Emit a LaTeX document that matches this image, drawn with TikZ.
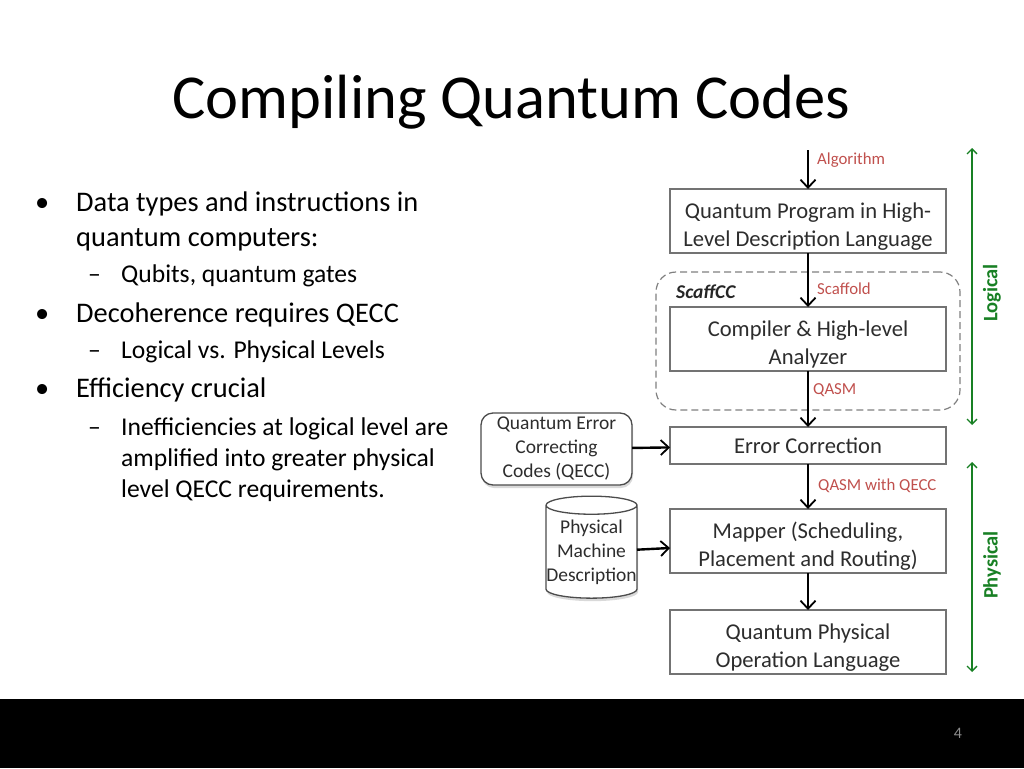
\documentclass[tikz,border=0pt]{standalone}
\usepackage{fontspec}
\setmainfont{Carlito}
\usetikzlibrary{positioning,shapes.geometric,arrows.meta,shadows}
\definecolor{etiqred}{RGB}{192,80,77}
\definecolor{nivgreen}{RGB}{24,128,36}
\definecolor{bloctext}{RGB}{45,45,45}

\begin{document}
\begin{tikzpicture}[x=1pt, y=-1pt,
    bloc/.style={draw=black!55, line width=1.2pt, fill=white,
        minimum width=276pt, minimum height=64pt,
        text=bloctext, font=\fontsize{22.6}{28}\selectfont, align=center,
        inner sep=0pt, outer sep=0pt},
    doble/.style={text height=55pt, text depth=5pt},
    fuente/.style={draw=black!70, line width=1.3pt, fill=white,
        text=bloctext, font=\fontsize{19.5}{24}\selectfont, align=center,
        inner sep=0pt, outer sep=0pt,
        drop shadow={shadow xshift=1pt, shadow yshift=-3pt, opacity=0.3}},
    flecha/.style={-{Straight Barb[length=8pt,width=15pt,line width=1.8pt]}, line width=2.4pt},
    etiq/.style={text=etiqred, font=\fontsize{16.8}{18}\selectfont,
        anchor=west, inner sep=0pt},
    nivel/.style={{Straight Barb[length=5pt,width=10pt]}-{Straight Barb[length=5pt,width=10pt]},
        draw=nivgreen, line width=1.3pt},
    nivtext/.style={text=nivgreen, font=\fontsize{20.5}{22}\selectfont\bfseries,
        rotate=90, inner sep=0pt},
    punto/.style={anchor=base west, inner sep=0pt, font=\fontsize{28.4}{34}\selectfont},
    subpunto/.style={anchor=base west, inner sep=0pt, font=\fontsize{25.6}{31}\selectfont},
    ]
    \useasboundingbox (0,0) rectangle (1024,768);
    % footer
    \fill[black] (0,699) rectangle (1024,768);
    \node[text=black!45, font=\fontsize{16}{18}\selectfont] (pagina) at (958,733) {4};
    % title
    \node[anchor=base, inner sep=0pt, font=\fontsize{62.5}{70}\selectfont] (titulo) at (511.5,118) {Compiling Quantum Codes};
    % bullets
    \node[punto] (b1) at (35,211) {•};
    \node[punto] (t1) at (76,211) {Data types and instructions in};
    \node[punto] (t1b) at (76,246) {quantum computers:};
    \node[subpunto] (d1) at (88,282) {–};
    \node[subpunto] (s1) at (121,282) {Qubits, quantum gates};
    \node[punto] (b2) at (35,322) {•};
    \node[punto] (t2) at (76,322) {Decoherence requires QECC};
    \node[subpunto] (d2) at (88,358) {–};
    \node[subpunto] (s2) at (121,358) {Logical vs. Physical Levels};
    \node[punto] (b3) at (35,397) {•};
    \node[punto] (t3) at (76,397) {Efficiency crucial};
    \node[subpunto] (d3) at (88,435) {–};
    \node[subpunto] (s3) at (121,435) {Inefficiencies at logical level are};
    \node[subpunto] (s3b) at (121,466) {amplified into greater physical};
    \node[subpunto] (s3c) at (121,497) {level QECC requirements.};
    % ScaffCC frame
    \node[draw=black!50, dash pattern=on 7pt off 4pt, line width=1.2pt, rounded corners=20pt,
        minimum width=304pt, minimum height=138pt] (scaff) at (808,341) {};
    \node[anchor=west, inner sep=0pt, text=black!85,
        font=\fontsize{19.5}{21}\selectfont\bfseries\itshape] (scafftxt) at (676,292) {ScaffCC};
    % flow
    \node[bloc, doble] (prog) at (808,221) {Quantum Program in High-\\Level Description Language};
    \node[bloc, doble, below=54pt of prog] (comp) {Compiler \& High-level\\Analyzer};
    \node[bloc, minimum height=37pt, below=56pt of comp] (ecorr) {Error Correction};
    \node[bloc, doble, below=45pt of ecorr] (mapper) {Mapper (Scheduling,\\Placement and Routing)};
    \node[bloc, doble, below=37pt of mapper] (qpol) {Quantum Physical\\Operation Language};
    \coordinate (alg) at (808,150);
    \draw[flecha] (alg) -- (prog.north);
    \draw[flecha] (prog) -- (comp);
    \draw[flecha] (comp) -- (ecorr);
    \draw[flecha] (ecorr) -- (mapper);
    \draw[flecha] (mapper) -- (qpol);
    \node[etiq] (l1) at (817,160) {Algorithm};
    \node[etiq] (l2) at (817,289) {Scaffold};
    \node[etiq] (l3) at (813,390) {QASM};
    \node[etiq] (l4) at (818,486) {QASM with QECC};
    % inputs
    \node[fuente, rounded corners=12pt, minimum width=151pt, minimum height=72pt]
        (qecc) at (556.5,449) {Quantum Error\\Correcting\\Codes (QECC)};
    \node[fuente, cylinder, shape border rotate=90, aspect=0.2,
        minimum width=91pt, minimum height=102pt]
        (pmd) at (591.5,552) {Physical\\Machine\\Description};
    \draw[flecha] (qecc) -- (ecorr);
    \draw[flecha] (pmd) -- (mapper);
    % levels
    \coordinate (logtop) at (972,148);
    \coordinate (logbot) at (972,425);
    \coordinate (phytop) at (972,462);
    \coordinate (phybot) at (972,672);
    \draw[nivel] (logtop) -- (logbot);
    \draw[nivel] (phytop) -- (phybot);
    \node[nivtext] (logico) at (992,293) {Logical};
    \node[nivtext] (fisico) at (992,565) {Physical};
\end{tikzpicture}
\end{document}
